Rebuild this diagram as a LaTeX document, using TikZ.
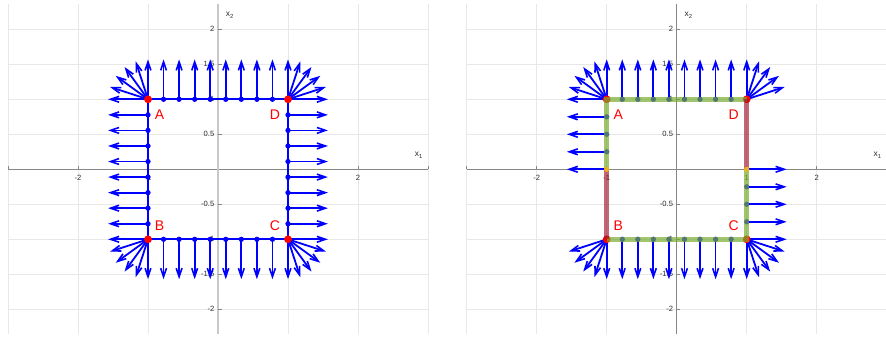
\documentclass[tikz,border=0pt]{standalone}
\usepackage{fontspec}
\setmainfont{Liberation Sans}
\usetikzlibrary{arrows.meta}
\definecolor{qblue}{RGB}{0,0,255}
\definecolor{gridc}{RGB}{232,232,232}
\definecolor{axc}{RGB}{135,135,135}
\definecolor{axlight}{RGB}{200,200,200}
\definecolor{tickc}{RGB}{45,45,45}
\definecolor{mgreen}{RGB}{119,172,48}
\definecolor{mred}{RGB}{162,20,47}
\definecolor{morange}{RGB}{237,177,32}
\tikzset{
  gridline/.style={draw=gridc, line width=0.8pt},
  axisline/.style={draw=axc, line width=1pt},
  tickmark/.style={draw=axc, line width=0.8pt},
  ticklab/.style={font=\fontsize{7.6}{9}\selectfont, text=tickc, inner sep=0pt},
  axlab/.style={font=\fontsize{8.4}{10}\selectfont, text=tickc, inner sep=0pt},
  qarrow/.style={draw=qblue, line width=1.8pt, -{Straight Barb[length=8.5pt,width=5.8pt,line width=1.6pt]}},
  bound/.style={draw=qblue, line width=2.4pt},
  bpt/.style={fill=qblue, draw=qblue, line width=0.8pt},
  cornerdot/.style={fill=red},
  cornerlab/.style={text=red, font=\fontsize{14}{16}\selectfont, inner sep=0pt},
  greenseg/.style={draw=mgreen, line width=5.5pt, opacity=0.7},
  redseg/.style={draw=mred, line width=5.5pt, opacity=0.65},
  orangept/.style={fill=morange},
}
\newcommand\myaxesbg[1]{%
  \foreach \x in {-3,-2,-1,0,1,2,3} \draw[gridline] (\x,-2.36) -- (\x,2.36);
  \foreach \y in {-2,-1.5,-1,-0.5,0,0.5,1,1.5,2} \draw[gridline] (-3,\y) -- (3,\y);
  \draw[axisline] (-3,0) -- (3,0);
  \draw[#1] (0,-2.36) -- (0,2.36);
  \foreach \x in {-3,-2,-1,1,2,3} \draw[tickmark] (\x,0) -- ++(0,0.05);
  \foreach \y in {-2,-1.5,-1,-0.5,0.5,1,1.5,2} \draw[tickmark] (0,\y) -- ++(0.05,0);
  \foreach \x in {-2,-1,1,2} \node[ticklab] at (\x,-0.12) {\x};
  \foreach \y in {2,1.5,1,0.5,-0.5,-1,-1.5,-2} \node[ticklab,anchor=east] at (-0.05,\y) {\y};
  \node[axlab] (xtwo) at (0.17,2.2) {x\textsubscript{2}};
  \node[axlab] (xone) at (2.87,0.2) {x\textsubscript{1}};
}
\begin{document}
\begin{tikzpicture}[x=70pt,y=70pt]
\useasboundingbox (0pt,0pt) rectangle (886pt,337pt);
% ---------------- left panel ----------------
\begin{scope}[shift={(218pt,167.7pt)}]
  \myaxesbg{draw=axlight, line width=2.4pt}
  \foreach \k in {1,...,8} {
    \pgfmathsetmacro\s{-1+2*\k/9}
    \draw[qarrow] (\s,1) -- ++(0,0.57);
    \draw[qarrow] (\s,-1) -- ++(0,-0.57);
    \draw[qarrow] (-1,\s) -- ++(-0.57,0);
    \draw[qarrow] (1,\s) -- ++(0.57,0);
  }
  \foreach \a in {90,108,126,144,162,180} \draw[qarrow] (-1,1) -- ++(\a:0.57);
  \foreach \a in {0,18,36,54,72,90} \draw[qarrow] (1,1) -- ++(\a:0.57);
  \foreach \a in {180,198,216,234,252,270} \draw[qarrow] (-1,-1) -- ++(\a:0.57);
  \foreach \a in {270,288,306,324,342,360} \draw[qarrow] (1,-1) -- ++(\a:0.57);
  \draw[bound] (-1,-1) rectangle (1,1);
  \foreach \k in {1,...,8} {
    \pgfmathsetmacro\s{-1+2*\k/9}
    \draw[bpt] (\s,1) circle (2.2pt);
    \draw[bpt] (\s,-1) circle (2.2pt);
    \draw[bpt] (-1,\s) circle (2.2pt);
    \draw[bpt] (1,\s) circle (2.2pt);
  }
  \foreach \p in {(-1,1),(1,1),(-1,-1),(1,-1)} \fill[cornerdot] \p circle (3.9pt);
  \node[cornerlab] (lA) at (-0.835,0.786) {A};
  \node[cornerlab] (lD) at (0.815,0.786) {D};
  \node[cornerlab] (lB) at (-0.835,-0.806) {B};
  \node[cornerlab] (lC) at (0.815,-0.806) {C};
\end{scope}
% ---------------- right panel ----------------
\begin{scope}[shift={(676.7pt,167.7pt)}]
  \myaxesbg{axisline}
  \foreach \k in {1,...,8} {
    \pgfmathsetmacro\s{-1+2*\k/9}
    \draw[qarrow] (\s,1) -- ++(0,0.57);
    \draw[qarrow] (\s,-1) -- ++(0,-0.57);
  }
  \foreach \y in {0,0.25,0.5,0.75} \draw[qarrow] (-1,\y) -- ++(-0.57,0);
  \foreach \y in {0,-0.25,-0.5,-0.75} \draw[qarrow] (1,\y) -- ++(0.57,0);
  \foreach \a in {90,108,126,144,162,180} \draw[qarrow] (-1,1) -- ++(\a:0.57);
  \foreach \a in {18,36,54,72,90} \draw[qarrow] (1,1) -- ++(\a:0.57);
  \foreach \a in {198,216,234,252,270} \draw[qarrow] (-1,-1) -- ++(\a:0.57);
  \foreach \a in {270,288,306,324,342,360} \draw[qarrow] (1,-1) -- ++(\a:0.57);
  \foreach \p in {(-1,1),(1,1),(-1,-1),(1,-1)} \fill[cornerdot] \p circle (3.9pt);
  \foreach \k in {1,...,8} {
    \pgfmathsetmacro\s{-1+2*\k/9}
    \draw[bpt] (\s,1) circle (2.2pt);
    \draw[bpt] (\s,-1) circle (2.2pt);
  }
  \foreach \y in {0.25,0.5,0.75} \draw[bpt] (-1,\y) circle (2.2pt);
  \foreach \y in {-0.25,-0.5,-0.75} \draw[bpt] (1,\y) circle (2.2pt);
  \draw[greenseg] (-1,0) -- (-1,1) -- (1,1);
  \draw[greenseg] (-1,-1) -- (1,-1) -- (1,0);
  \draw[redseg] (-1,0) -- (-1,-1);
  \draw[redseg] (1,1) -- (1,0);
  \fill[orangept] (-1,0) circle (2.6pt);
  \fill[orangept] (1,0) circle (2.6pt);
  \node[cornerlab] (rA) at (-0.835,0.786) {A};
  \node[cornerlab] (rD) at (0.815,0.786) {D};
  \node[cornerlab] (rB) at (-0.835,-0.806) {B};
  \node[cornerlab] (rC) at (0.815,-0.806) {C};
\end{scope}
\end{tikzpicture}
\end{document}
